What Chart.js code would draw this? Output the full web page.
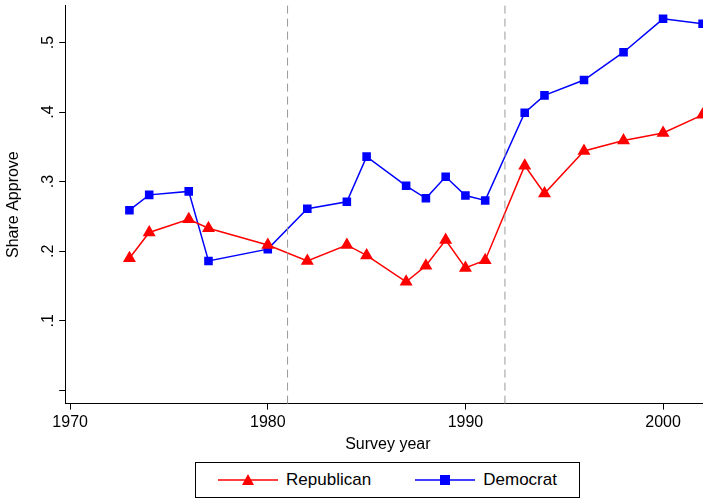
<!DOCTYPE html>
<html><head><meta charset="utf-8">
<script src="https://cdn.jsdelivr.net/npm/chart.js@4"></script>
<style>
body{margin:0;background:#fff;font-family:"Liberation Sans",Arial,sans-serif;}
#wrap{position:relative;width:703px;height:458px;overflow:hidden;}
#c{position:absolute;left:0;top:-20px;}
#legend{position:absolute;left:195px;top:462px;width:385px;height:36px;border:1px solid #000;box-sizing:border-box;display:flex;align-items:center;justify-content:space-around;font-size:17px;}
#legend span{display:flex;align-items:center;gap:8px;}
</style></head><body>
<div id="wrap"><canvas id="c" width="718" height="478"></canvas></div>
<div id="legend">
<span><svg width="60" height="14"><line x1="0" y1="7" x2="60" y2="7" stroke="#f00" stroke-width="1.5"/><polygon points="30,1 36,12 24,12" fill="#f00"/></svg>Republican</span>
<span><svg width="60" height="14"><line x1="0" y1="7" x2="60" y2="7" stroke="#00f" stroke-width="1.5"/><rect x="25" y="2" width="10" height="10" fill="#00f"/></svg>Democrat</span>
</div>
<script>
const years = [1973,1974,1976,1977,1980,1982,1984,1985,1987,1988,1989,1990,1991,1993,1994,1996,1998,2000,2002];
const republican = [.19,.227,.246,.233,.209,.186,.209,.194,.156,.179,.216,.176,.187,.323,.283,.344,.359,.37,.396];
const democrat = [.259,.281,.286,.186,.203,.261,.271,.336,.294,.276,.307,.28,.273,.399,.424,.446,.486,.534,.527];
const xTicks = [1970,1980,1990,2000];
const yTicks = [0,.1,.2,.3,.4,.5];
const breakYears = [1981,1992];

const extras = {
  id: "extras",
  afterDraw(chart) {
    const c = chart.ctx, x = chart.scales.x, y = chart.scales.y, a = chart.chartArea;
    c.save();
    c.strokeStyle = "#999"; c.lineWidth = 1; c.setLineDash([8,5]);
    breakYears.forEach(b => {
      const px = x.getPixelForValue(b);
      c.beginPath(); c.moveTo(px, a.top); c.lineTo(px, a.bottom); c.stroke();
    });
    c.setLineDash([]);
    c.fillStyle = "#000"; c.font = "16px 'Liberation Sans', Arial"; c.textAlign = "center";
    yTicks.forEach(t => {
      if (t === 0) return;
      const py = y.getPixelForValue(t);
      c.save(); c.translate(a.left - 12, py); c.rotate(-Math.PI/2);
      c.fillText(String(t).replace("0.", "."), 0, 0); c.restore();
    });
    c.restore();
  }
};

new Chart(document.getElementById("c"), {
  type: "line",
  data: {
    datasets: [
      { label: "Republican", data: years.map((yr,i)=>({x:yr,y:republican[i]})), borderColor:"#f00", backgroundColor:"#f00", pointStyle:"triangle", pointRadius:6, borderWidth:1.5 },
      { label: "Democrat", data: years.map((yr,i)=>({x:yr,y:democrat[i]})), borderColor:"#00f", backgroundColor:"#00f", pointStyle:"rect", pointRadius:5, borderWidth:1.5 }
    ]
  },
  options: {
    responsive: false, animation: false,
    layout: { padding: { top: 5, right: 1 } },
    plugins: { legend: { display: false }, tooltip: { enabled: false } },
    scales: {
      x: { type: "linear", min: 1969.75, max: 2002.4,
        afterBuildTicks: s => { s.ticks = xTicks.map(v=>({value:v})); },
        grid: { drawOnChartArea:false, tickLength:6, tickColor:"#000" },
        border: { color:"#000" },
        ticks: { color:"#000", font:{size:16, family:"'Liberation Sans', Arial"}, callback: v => v, maxRotation:0 },
        title: { display:true, text:"Survey year", color:"#000", font:{size:16, family:"'Liberation Sans', Arial"}, padding:{top:0} } },
      y: { min: -0.019, max: 0.553,
        afterBuildTicks: s => { s.ticks = yTicks.map(v=>({value:v})); },
        grid: { drawOnChartArea:false, tickLength:6, tickColor:"#000" },
        border: { color:"#000" },
        ticks: { color:"#000", font:{size:16}, callback: () => "", padding: 16 },
        title: { display:true, text:"Share Approve", color:"#000", font:{size:16, family:"'Liberation Sans', Arial"} } }
    }
  },
  plugins: [extras]
});
</script>
</body></html>
